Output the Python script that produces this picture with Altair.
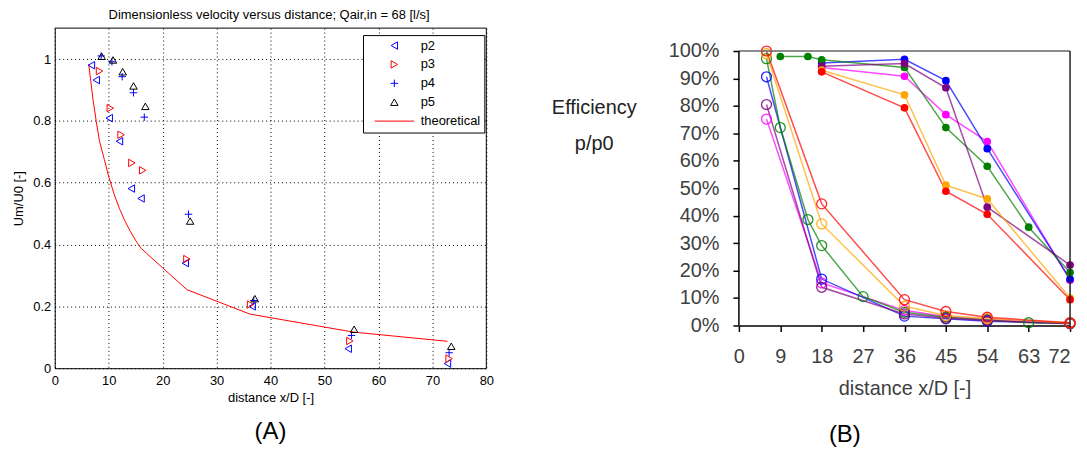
import altair as alt
import pandas as pd

# ---------------- Panel (A): dimensionless velocity ----------------
p2_x = [6.8, 7.7, 10.1, 12.0, 14.2, 16.0, 24.2, 36.6, 54.4, 72.8]
p2_y = [0.98, 0.932, 0.809, 0.734, 0.581, 0.549, 0.34, 0.20, 0.063, 0.015]
p3_x = [8.3, 10.3, 12.3, 14.3, 16.3, 24.5, 36.3, 54.7, 73.1]
p3_y = [0.961, 0.841, 0.755, 0.664, 0.64, 0.353, 0.206, 0.088, 0.031]
p4_x = [8.6, 10.6, 12.5, 14.6, 16.6, 24.8, 36.9, 55.0, 73.1]
p4_y = [1.01, 0.991, 0.943, 0.891, 0.812, 0.498, 0.219, 0.106, 0.05]
p5_x = [8.7, 10.8, 12.6, 14.6, 16.8, 25.1, 37.1, 55.5, 73.5]
p5_y = [1.009, 0.997, 0.959, 0.913, 0.847, 0.476, 0.225, 0.126, 0.071]
theo_x = [6.3, 7.1, 7.7, 8.3, 9.2, 10, 11, 12, 13, 14, 15, 16, 17, 24.5, 36.2, 55.3, 72.8]
theo_y = [0.983, 0.868, 0.798, 0.734, 0.675, 0.62, 0.563, 0.516, 0.477, 0.443,
          0.413, 0.388, 0.372, 0.254, 0.175, 0.117, 0.087]

a_series = ["p2", "p3", "p4", "p5", "theoretical"]
a_colors = ["#0000ff", "#ff0000", "#0000ff", "#000000", "#ff0000"]
a_shapes = ["triangle-left", "triangle-right", "M-1,0L1,0M0,-1L0,1", "triangle-up", "M-5.3,0L5.3,0"]
a_xticks = [0, 10, 20, 30, 40, 50, 60, 70, 80]
a_yticks = [0, 0.2, 0.4, 0.6, 0.8, 1.0]
a_ymax = 1.1

# ---------------- Panel (B): efficiency ----------------
dist_open = [6, 18, 36, 45, 54, 72]
open_blue = [90.6, 16.9, 3.4, 2.4, 1.5, 0.8]
open_red = [100, 44.3, 9.4, 5.1, 3.0, 1.0]
open_orange = [99, 37.0, 7.0, 3.6, 2.5, 0.9]
open_purple = [80.5, 13.9, 4.2, 2.6, 1.8, 0.6]
open_magenta = [75.2, 15.5, 5.5, 3.2, 2.2, 0.8]
dist_green_open = [6, 9, 15, 18, 27, 36, 45, 54, 63, 72]
open_green = [97.2, 72.1, 38.6, 29.1, 10.5, 4.8, 3.0, 2.0, 1.0, 0.8]

dist_filled = [18, 36, 45, 54, 72]
filled_blue = [95.6, 97.0, 89.2, 64.4, 16.9]
filled_purple = [94.4, 95.4, 86.6, 43.1, 22.0]
filled_magenta = [94.0, 90.8, 76.8, 67.0, 16.5]
filled_orange = [93.0, 84.0, 51.1, 46.1, 10.0]
filled_red = [92.4, 79.3, 48.9, 40.5, 9.4]
dist_green_filled = [9, 15, 18, 36, 45, 54, 63, 72]
filled_green = [98, 98, 96.8, 94.0, 72.1, 58.0, 35.8, 19.3]

b_color_names = ["magenta", "blue", "green", "purple", "orange", "red"]
b_color_hex = ["#ff00ff", "#0000ff", "#008000", "#800080", "#ffa500", "#ff0000"]
b_xticks = [0, 9, 18, 27, 36, 45, 54, 63, 72]
b_yticks = [0, 10, 20, 30, 40, 50, 60, 70, 80, 90, 100]

FA = "Liberation Sans"

# ---------- build panel A ----------
pts = pd.DataFrame({
    "x": p2_x + p3_x + p4_x + p5_x,
    "y": p2_y + p3_y + p4_y + p5_y,
    "series": ["p2"] * len(p2_x) + ["p3"] * len(p3_x) + ["p4"] * len(p4_x) + ["p5"] * len(p5_x),
})
theo = pd.DataFrame({"x": theo_x, "y": theo_y})

ax_common = dict(labelFont=FA, labelFontSize=13, titleFont=FA, titleFontSize=13,
                 titleFontWeight="normal", labelColor="black", titleColor="black",
                 domainColor="black", grid=True, gridColor="black", gridDash=[1, 3],
                 gridOpacity=1, gridWidth=1, tickSize=0, labelFlush=False)

xA = alt.X("x:Q", scale=alt.Scale(domain=[a_xticks[0], a_xticks[-1]], nice=False),
           axis=alt.Axis(values=a_xticks, title="distance x/D [-]", labelPadding=6,
                         titlePadding=4, **ax_common))
yA = alt.Y("y:Q", scale=alt.Scale(domain=[0, a_ymax], nice=False),
           axis=alt.Axis(values=a_yticks, format="~g", title="Um/U0 [-]", labelPadding=4,
                         titlePadding=7, **ax_common))
y2A = alt.Y2("y2:Q")
x2A = alt.X2("x2:Q")

legA = alt.Legend(orient="none", legendX=310, legendY=7, title=None, fillColor="white",
                  strokeColor="black", padding=4, symbolOffset=21, labelOffset=20,
                  rowPadding=5, labelFont=FA, labelFontSize=13, labelColor="black",
                  symbolSize=56, symbolStrokeWidth=1)

points_a = alt.Chart(pts).mark_point(filled=False, size=56, strokeWidth=1, opacity=1).encode(
    x=xA, y=yA,
    color=alt.Color("series:N", scale=alt.Scale(domain=a_series, range=a_colors), legend=legA),
    shape=alt.Shape("series:N", scale=alt.Scale(domain=a_series, range=a_shapes), legend=legA),
)
line_a = alt.Chart(theo).mark_line(color="#ff0000", strokeWidth=1).encode(x=xA, y=yA)

box_a = pd.DataFrame({"x": [a_xticks[0], a_xticks[-1]], "x2": [a_xticks[-1], a_xticks[-1]],
                      "y": [a_ymax, 0], "y2": [a_ymax, a_ymax]})
box_top = alt.Chart(box_a.iloc[[0]]).mark_rule(color="black", strokeWidth=1).encode(
    x=xA, x2=x2A, y=yA)
box_right = alt.Chart(box_a.iloc[[1]]).mark_rule(color="black", strokeWidth=1).encode(
    x=xA, y=yA, y2=y2A)

left = alt.layer(box_top, box_right, line_a, points_a).properties(
    width=434, height=342,
    title=alt.Title("(A)", orient="bottom", font=FA, fontSize=24, fontWeight="normal",
                    color="black", offset=16, frame="group"),
)
left_w = alt.vconcat(left, title=alt.Title(
    "Dimensionless velocity versus distance; Qair,in = 68 [l/s]", font=FA, fontSize=13,
    fontWeight="normal", color="black", offset=5, anchor="middle", frame="bounds", dx=16))

# ---------- build panel B ----------
rows = []
def add(xs, ys, color, kind):
    for xv, yv in zip(xs, ys):
        rows.append({"x": xv, "y": yv, "color": color, "kind": kind,
                     "series": f"{b_color_names.index(color)}_{kind}_{color}"})

add(dist_open, open_magenta, "magenta", "open")
add(dist_open, open_blue, "blue", "open")
add(dist_green_open, open_green, "green", "open")
add(dist_open, open_purple, "purple", "open")
add(dist_open, open_orange, "orange", "open")
add(dist_open, open_red, "red", "open")
add(dist_filled, filled_magenta, "magenta", "filled")
add(dist_filled, filled_blue, "blue", "filled")
add(dist_green_filled, filled_green, "green", "filled")
add(dist_filled, filled_purple, "purple", "filled")
add(dist_filled, filled_orange, "orange", "filled")
add(dist_filled, filled_red, "red", "filled")
dfb = pd.DataFrame(rows)

y_top = 100 * 299 / 276
cB = alt.Color("color:N", scale=alt.Scale(domain=b_color_names, range=b_color_hex), legend=None)
xB = alt.X("x:Q", scale=alt.Scale(domain=[b_xticks[0], b_xticks[-1]], nice=False),
           axis=alt.Axis(values=b_xticks, title="distance x/D [-]", grid=False,
                         labelFont=FA, labelFontSize=20, labelColor="#404040",
                         titleFont=FA, titleFontSize=20, titleFontWeight="normal",
                         titleColor="#404040", domainColor="black", domainWidth=1.5,
                         tickColor="black", tickSize=6, tickWidth=1.5, labelPadding=15,
                         titlePadding=12, labelFlush=False, labelOverlap=False,
                         labelAlign={"condition": {"test": f"datum.value == {b_xticks[-1]}",
                                                   "value": "right"}, "value": "center"}))
yB = alt.Y("y:Q", scale=alt.Scale(domain=[0, y_top], nice=False),
           axis=alt.Axis(values=b_yticks, labelExpr="datum.value + '%'", grid=False,
                         labelOverlap=False, labelFlush=False, domain=False, labelFont=FA,
                         labelFontSize=20, labelColor="#404040", tickColor="black",
                         tickSize=6, tickWidth=1.5, labelPadding=14,
                         title=["Efficiency", "p/p0"], titleAngle=0,
                         titleAlign="center", titleBaseline="top", titleX=-146, titleY=70,
                         titleLineHeight=36, titleFont=FA, titleFontSize=20,
                         titleFontWeight="normal", titleColor="#222222"))
y2B = alt.Y2("y2:Q")
x2B = alt.X2("x2:Q")

lines_b = alt.Chart(dfb).mark_line(strokeWidth=1.5, opacity=0.7).encode(
    x=xB, y=yB, color=cB, detail="series:N", order="x:Q")
open_b = alt.Chart(dfb).transform_filter(alt.datum.kind == "open").mark_point(
    shape="circle", filled=False, size=100, strokeWidth=1.3, opacity=0.85).encode(
    x=xB, y=yB, color=cB)
fill_b = alt.Chart(dfb).transform_filter(alt.datum.kind == "filled").mark_point(
    shape="circle", filled=True, size=60, opacity=1).encode(
    x=xB, y=yB, color=cB)

frame = pd.DataFrame({"x": [0, b_xticks[-1], 0], "x2": [b_xticks[-1], b_xticks[-1], 0],
                      "y": [b_yticks[-1], 0, 0], "y2": [b_yticks[-1], b_yticks[-1], b_yticks[-1]]})
frame_top = alt.Chart(frame.iloc[[0]]).mark_rule(color="#666666", strokeWidth=1.5).encode(
    x=xB, x2=x2B, y=yB)
frame_right = alt.Chart(frame.iloc[[1]]).mark_rule(color="#222222", strokeWidth=1.5).encode(
    x=xB, y=yB, y2=y2B)
axis_left = alt.Chart(frame.iloc[[2]]).mark_rule(color="black", strokeWidth=1.5).encode(
    x=xB, y=yB, y2=y2B)

right = alt.layer(lines_b, open_b, fill_b, frame_top, frame_right, axis_left).properties(
    width=333, height=299,
    title=alt.Title("(B)", orient="bottom", font=FA, fontSize=24, fontWeight="normal",
                    color="black", offset=25, frame="group", dx=-60),
)

chart = alt.hconcat(left_w, right, spacing=56).resolve_scale(
    color="independent", shape="independent"
).properties(
    padding={"left": 4, "top": 0, "right": 0, "bottom": 0}
).configure_view(stroke="transparent")

chart.save("out.html", embed_options={"renderer": "svg", "actions": False})
